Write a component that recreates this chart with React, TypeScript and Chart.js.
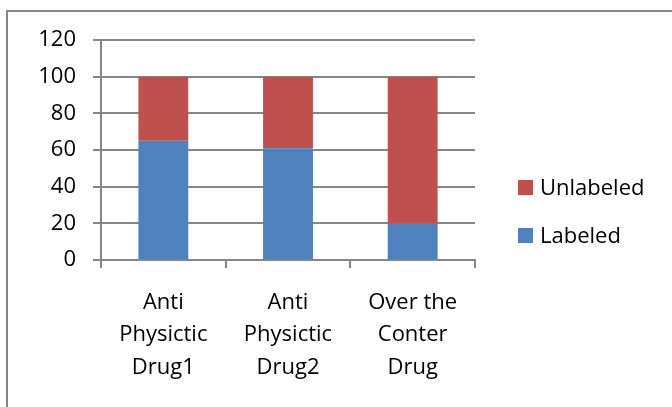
import React, { useEffect, useRef } from "react";
import { Chart, registerables } from "chart.js";

Chart.register(...registerables);

const categories: string[][] = [
  ["Anti", "Physictic", "Drug1"],
  ["Anti", "Physictic", "Drug2"],
  ["Over the", "Conter", "Drug"],
];
const labeledValues: number[] = [65, 61, 20];
const unlabeledValues: number[] = [35, 39, 80];
const yTicks: number[] = [0, 20, 40, 60, 80, 100, 120];

const BLUE = "#4F81BD";
const RED = "#C0504D";
const GRID = "#868686";
const FONT = "'Open Sans', 'Liberation Sans', sans-serif";
const FONT_SIZE = 22;

// Legend drawn on the canvas, to the right of the plot (reverse dataset order, like Excel)
const sideLegend = {
  id: "sideLegend",
  afterDraw(chart: any, _args: any, opts: any) {
    const { ctx, chartArea } = chart;
    const items = chart.data.datasets
      .map((ds: any) => ({ label: ds.label, color: ds.backgroundColor }))
      .reverse();
    ctx.save();
    ctx.font = `${opts.fontSize}px ${opts.fontFamily}`;
    ctx.textBaseline = "middle";
    ctx.textAlign = "left";
    items.forEach((it: any, i: number) => {
      const x = chartArea.right + opts.offsetX;
      const cy = opts.firstCenterY + i * opts.spacing;
      ctx.fillStyle = it.color;
      ctx.fillRect(x, cy - opts.box / 2, opts.box, opts.box);
      ctx.fillStyle = "#000";
      ctx.fillText(it.label, x + opts.box + opts.textGap, cy + 1);
    });
    ctx.restore();
  },
};

export default function App() {
  const ref = useRef<HTMLCanvasElement | null>(null);

  useEffect(() => {
    if (!ref.current) return;
    const chart = new Chart(ref.current, {
      type: "bar",
      data: {
        labels: categories,
        datasets: [
          {
            label: "Labeled",
            data: labeledValues,
            backgroundColor: BLUE,
            borderWidth: 0,
            categoryPercentage: 1,
            barPercentage: 0.4,
          },
          {
            label: "Unlabeled",
            data: unlabeledValues,
            backgroundColor: RED,
            borderWidth: 0,
            categoryPercentage: 1,
            barPercentage: 0.4,
          },
        ],
      },
      plugins: [sideLegend],
      options: {
        animation: false,
        responsive: false,
        devicePixelRatio: 1,
        layout: { padding: { top: 40, left: 0, right: 197, bottom: 25 } },
        plugins: {
          tooltip: { enabled: false },
          legend: { display: false },
          sideLegend: {
            offsetX: 43,
            firstCenterY: 187.5,
            spacing: 48,
            box: 15,
            textGap: 7,
            fontSize: FONT_SIZE,
            fontFamily: FONT,
          },
        },
        scales: {
          x: {
            stacked: true,
            grid: {
              offset: true,
              drawOnChartArea: false,
              drawTicks: true,
              tickLength: 8,
              color: GRID,
              lineWidth: 2,
            },
            border: { display: true, color: GRID, width: 2 },
            ticks: {
              color: "#000",
              padding: 19,
              maxRotation: 0,
              autoSkip: false,
              font: { family: FONT, size: FONT_SIZE, lineHeight: 1.46 },
            },
            afterFit: (s: any) => {
              s.height = 122;
            },
          },
          y: {
            stacked: true,
            min: 0,
            max: 120,
            afterBuildTicks: (s: any) => {
              s.ticks = yTicks.map((v) => ({ value: v }));
            },
            grid: {
              color: GRID,
              lineWidth: 2,
              tickLength: 8,
              drawTicks: true,
            },
            border: { display: true, color: GRID, width: 2 },
            ticks: {
              color: "#000",
              padding: 17,
              font: { family: FONT, size: FONT_SIZE },
            },
            afterFit: (s: any) => {
              s.width = 101;
            },
          },
        },
      },
    } as any);
    return () => chart.destroy();
  }, []);

  return (
    <div
      style={{
        position: "fixed",
        left: 0,
        top: 0,
        width: 672,
        height: 407,
        overflow: "hidden",
        background: "#fff",
      }}
    >
      <div
        style={{
          position: "absolute",
          left: 6,
          top: 10,
          width: 800,
          height: 600,
          borderTop: `2px solid ${GRID}`,
          borderLeft: `2px solid ${GRID}`,
        }}
      />
      <canvas
        ref={ref}
        width={672}
        height={407}
        style={{ position: "absolute", left: 0, top: 0, width: 672, height: 407 }}
      />
    </div>
  );
}
